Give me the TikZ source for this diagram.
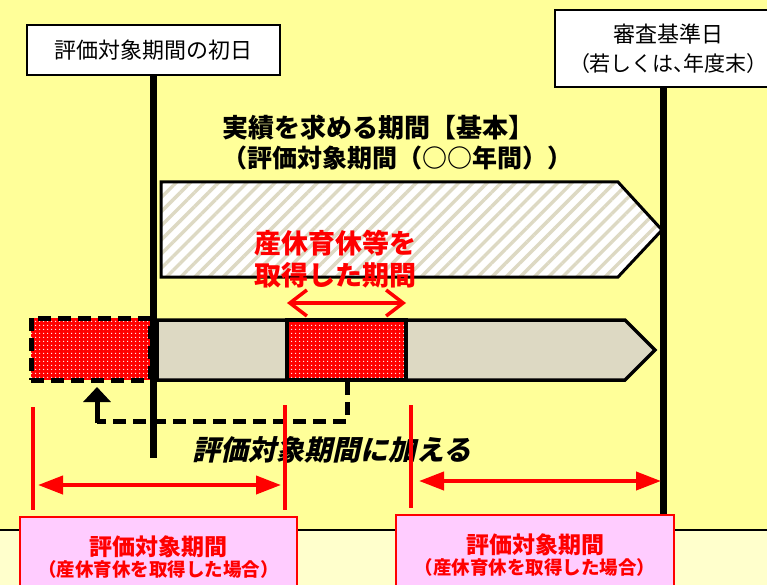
\documentclass[tikz,border=0pt]{standalone}
\usepackage{fontspec}
\setmainfont{Noto Sans CJK JP}
\newfontfamily\jpp{Noto Sans CJK JP}[RawFeature=+palt]
\newfontfamily\jpit{Noto Sans CJK JP}[FakeSlant=0.22]
\newcommand{\pp}[1]{{\jpp #1}}
\usetikzlibrary{arrows.meta,patterns.meta}
\definecolor{bgY}{HTML}{FFFF99}
\definecolor{bgL}{HTML}{FFFFCC}
\definecolor{beige}{HTML}{DDD9C3}
\definecolor{pinkF}{HTML}{FFCCFF}
\definecolor{redR}{HTML}{FF0000}
\tikzset{
  labelbox/.style={draw=black, line width=2.5pt, fill=white, inner sep=0pt, align=center},
  pinkbox/.style={draw=redR, line width=2pt, fill=pinkF, inner sep=0pt, align=center, text=redR, font=\bfseries},
  timeline/.style={line width=7pt, black},
  redline/.style={line width=4pt, redR},
  redarrow/.style={line width=4pt, redR, {Triangle[length=25pt,width=18pt]}-{Triangle[length=25pt,width=18pt]}},
  barbarrow/.style={line width=3.5pt, redR, {Straight Barb[length=17pt,width=26pt]}-{Straight Barb[length=17pt,width=26pt]}},
  dotfill/.style={preaction={fill=redR}, pattern={Dots[distance=4pt,radius=0.8pt]}, pattern color=white},
  dashline/.style={line width=5pt, dash pattern=on 13pt off 7pt},
}
\begin{document}
\begin{tikzpicture}[x=1pt,y=-1pt]
\useasboundingbox (0,0) rectangle (767,585);
% background
\fill[bgY] (0,0) rectangle (767,530);
\fill[bgL] (0,530) rectangle (767,585);
\draw[line width=2pt] (0,530) -- (767,530);

% hatched basic period arrow
\draw[line width=3pt, preaction={fill=white}, pattern={Lines[angle=45,distance=10pt,line width=3.4pt]}, pattern color=beige]
  (161,182) -- (618,182) -- (662,230) -- (618,277) -- (161,277) -- cycle;

% lower bar
\draw[line width=3.5pt, fill=beige]
  (157,320) -- (625,320) -- (655,350) -- (625,380) -- (157,380) -- cycle;

% leave period box (solid) and moved box (dashed)
\node[draw=black, line width=4pt, dotfill, minimum width=119pt, minimum height=60pt, inner sep=0pt] (leave) at (346.5,350) {};
\node[draw=black, dashline, dotfill, minimum width=119pt, minimum height=62pt, inner sep=0pt] (moved) at (90.5,349) {};

% timelines
\node[labelbox, minimum width=253pt, minimum height=50pt, font=\fontsize{22}{24}\selectfont] (start) at (153.5,50) {評価対象期間の初日};
\node[labelbox, minimum width=226pt, minimum height=77pt, font=\fontsize{21}{29}\selectfont] (ref) at (668,48.5) {{\fontsize{22}{29}\selectfont 審査基準日}\\\pp{（}若しくは\pp{、}年度末\pp{）}};
\coordinate (l1top) at (153.5,75);
\coordinate (l1bot) at (153.5,458);
\coordinate (l2top) at (663,87);
\coordinate (l2bot) at (663,516);
\draw[timeline] (l1top) -- (l1bot);
\draw[timeline] (l2top) -- (l2bot);

% title
\node[anchor=west, inner sep=0pt, align=left, font=\bfseries\fontsize{26}{30}\selectfont] (title) at (222,143) {実績を求める期間【基本】\\{\fontsize{25}{30}\selectfont （評価対象期間（○○年間））}};

% red label and barb arrow
\node[inner sep=0pt, align=center, text=redR, font=\bfseries\fontsize{27}{32}\selectfont] (leavelabel) at (335,259) {産休育休等を\\取得した期間};
\coordinate (b1) at (287,303);
\coordinate (b2) at (406,303);
\draw[barbarrow] (b1) -- (b2);

% dashed connector
\coordinate (c1) at (347,382);
\coordinate (c2) at (97,421);
\coordinate (c3) at (97,387);
\draw[dashline] (c1) |- (c2);
\draw[line width=5pt, -{Triangle[length=15pt,width=27pt]}] (97,423) -- (c3);
\node[inner sep=0pt, font=\jpit\bfseries\fontsize{28}{30}\selectfont] (addlabel) at (332,450) {評価対象期間に加える};

% red markers
\coordinate (r1t) at (33,407);  \coordinate (r1b) at (33,510);
\coordinate (r2t) at (285,405); \coordinate (r2b) at (285,510);
\coordinate (r3t) at (411,405); \coordinate (r3b) at (411,508);
\draw[redline] (r1t) -- (r1b);
\draw[redline] (r2t) -- (r2b);
\draw[redline] (r3t) -- (r3b);
\coordinate (a1) at (38,485);  \coordinate (a2) at (281,485);
\coordinate (a3) at (419,481); \coordinate (a4) at (661,481);
\draw[redarrow] (a1) -- (a2);
\draw[redarrow] (a3) -- (a4);

% pink result boxes
\node[pinkbox, minimum width=277pt, minimum height=80pt] (res1) at (158.5,557) {{\fontsize{23}{23}\selectfont 評価対象期間}\\[2pt]{\fontsize{18.5}{18.5}\selectfont （産休育休を取得した場合）}};
\node[pinkbox, minimum width=278pt, minimum height=80pt] (res2) at (535,555) {{\fontsize{23}{23}\selectfont 評価対象期間}\\[2pt]{\fontsize{18.5}{18.5}\selectfont （産休育休を取得した場合）}};
\end{tikzpicture}
\end{document}
